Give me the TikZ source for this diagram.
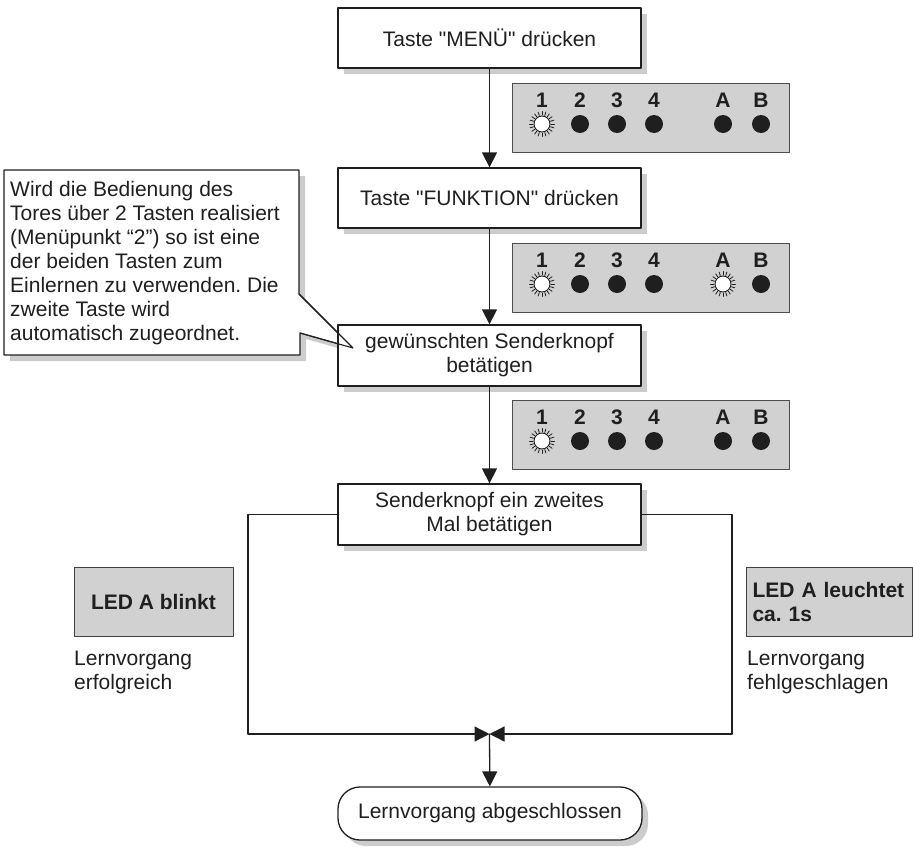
\documentclass[tikz,border=0pt]{standalone}
\usepackage{fontspec}
\setmainfont{Liberation Sans}
\usetikzlibrary{
	arrows.meta,
	shadows
}
\colorlet{PanelGray}{black!18}
\colorlet{ShadowGray}{black!20}
\colorlet{Ink}{black!88}
\newcommand{\ledpanel}[2]{%
	\node[panel] (#2) at (650.5,{#1+34.5}) {};
	\foreach \lx/\lt in {542/1,580/2,617/3,654/4,723/A,761/B}{%
		\node[ledlabel] (#2-\lt) at (\lx,{#1+24}) {\lt};
	}
}
\newcommand{\ledoff}[2]{%
	\fill[Ink] (#1,#2) circle (9);
}
\newcommand{\ledon}[2]{%
	\filldraw[fill=white, draw=Ink, line width=0.9pt] (#1,#2) circle (8);
	\foreach \aa in {0,18,...,342}{%
		\draw[Ink, line width=0.8pt, shift={(#1,#2)}] (\aa:9) -- (\aa:12.5);
	}
}

\begin{document}
\frenchspacing
\begin{tikzpicture}[x=1pt, y=-1pt, line cap=round, line join=round,
	font=\fontsize{21}{24}\selectfont, text=Ink,
	stepbox/.style={draw=Ink, line width=1.3pt, fill=white, align=center,
		minimum width=303pt, minimum height=60pt,
		drop shadow={shadow xshift=6pt, shadow yshift=-6pt, fill=ShadowGray, opacity=1}},
	panel/.style={draw=black!70, line width=0.8pt, fill=PanelGray,
		minimum width=277pt, minimum height=69pt},
	ledlabel/.style={font=\bfseries\fontsize{21}{24}\selectfont, anchor=base, inner sep=0pt},
	ledbox/.style={draw=black!75, line width=0.9pt, fill=PanelGray,
		font=\bfseries\fontsize{21}{24}\selectfont, minimum height=69pt},
	note/.style={align=left, anchor=north west, inner sep=0pt},
	flow/.style={draw=Ink, line width=1.3pt, -{Triangle[length=15pt, width=15pt]}}]
	
	\useasboundingbox (0,0) rectangle (913,849);
	
	% -- Hint callout (behind the third step) --------------------
	\draw[draw=Ink, line width=1.1pt, fill=white,
		drop shadow={shadow xshift=6pt, shadow yshift=-6pt, fill=ShadowGray, opacity=1}]
	(4,170) -- (299,170) -- (299,294) -- (353,348) -- (300,333) -- (300,355) -- (4,355) -- cycle;
	\node[note] (hint) at (10,181) {Wird die Bedienung des\\
		Tores über 2 Tasten realisiert\\
		(Menüpunkt “2”) so ist eine\\
		der beiden Tasten zum\\
		Einlernen zu verwenden. Die\\
		zweite Taste wird\\
		automatisch zugeordnet.};
	
	% -- Steps ---------------------------------------------------
	\node[stepbox] (menu) at (489.5,38) {Taste \textquotedbl MENÜ\textquotedbl{} drücken};
	\node[stepbox] (funk) at (489.5,198) {Taste \textquotedbl FUNKTION\textquotedbl{} drücken};
	\node[stepbox, minimum height=61pt] (sender) at (489.5,355.5) {gewünschten Senderknopf\\betätigen};
	\node[stepbox, minimum height=61pt] (zweit) at (489.5,514.5) {Senderknopf ein zweites\\Mal betätigen};
	\node[stepbox, rounded corners=22pt, minimum width=304pt, minimum height=53pt] (done) at (490,813.5) {Lernvorgang abgeschlossen};
	
	% pointer tip runs over the step box
	\draw[Ink, line width=1.1pt] (299,294) -- (353,348) -- (300,333);
	
	% -- LED panels ----------------------------------------------
	\ledpanel{83}{pnlA}
	\ledon{542}{124}
	\foreach \lx in {580,617,654,723,761} \ledoff{\lx}{124};
	
	\ledpanel{243}{pnlB}
	\ledon{542}{284}
	\ledon{723}{284}
	\foreach \lx in {580,617,654,761} \ledoff{\lx}{284};
	
	\ledpanel{400}{pnlC}
	\ledon{542}{441}
	\foreach \lx in {580,617,654,723,761} \ledoff{\lx}{441};
	
	% -- Results -------------------------------------------------
	\node[ledbox, minimum width=159pt] (blinkt) at (153.5,601.5) {LED A blinkt};
	\node[ledbox, align=left, text width=154pt, inner xsep=6pt] (leucht) at (829.5,601.5) {LED A leuchtet\\ca. 1s};
	\node[note] (ok) at (74,651) {Lernvorgang\\erfolgreich};
	\node[note] (fail) at (747,651) {Lernvorgang\\fehlgeschlagen};
	
	% -- Connectors ----------------------------------------------
	\coordinate (lcorner) at (248,734);
	\coordinate (rcorner) at (732,734);
	\coordinate (join) at (489.5,734);
	
	\draw[flow] (menu) -- (funk);
	\draw[flow] (funk) -- (sender);
	\draw[flow] (sender) -- (zweit);
	\draw[flow] (zweit.west) -| (lcorner) -- (join);
	\draw[flow] (zweit.east) -| (rcorner) -- (join);
	\draw[flow] (join) -- (done);
	
\end{tikzpicture}
\end{document}
